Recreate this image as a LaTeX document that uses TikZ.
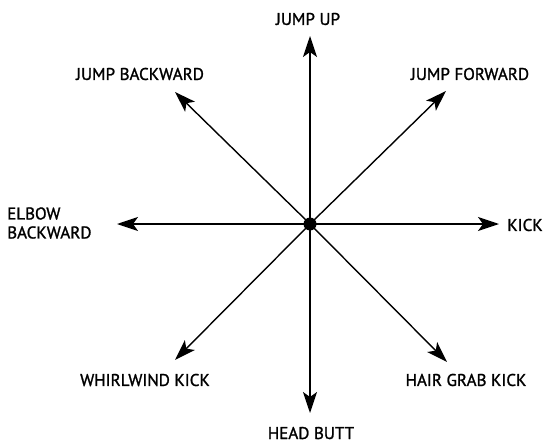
\documentclass[tikz,border=0pt]{standalone}
\usepackage{fontspec}
\newfontfamily\lblfont{PT Sans}[FakeBold=1.3]
\usetikzlibrary{arrows.meta}
\begin{document}
\begin{tikzpicture}[x=1pt,y=-1pt,
  dir/.style={line width=1.4pt,-{Stealth[length=21pt,width=14pt,inset=5pt]}},
  lbl/.style={font=\lblfont\fontsize{17}{17}\selectfont, inner sep=0pt, text=black}]
\useasboundingbox (0,0) rectangle (546,444);
\node[circle, fill=black, minimum size=13pt, inner sep=0pt] (c) at (310,224) {};
\coordinate (n) at (310,36);
\coordinate (s) at (310,413);
\coordinate (w) at (117,224);
\coordinate (e) at (499,224);
\coordinate (nw) at (175,92);
\coordinate (ne) at (446,91);
\coordinate (sw) at (175,360);
\coordinate (se) at (447,362);
\foreach \t in {n,s,w,e,nw,ne,sw,se} \draw[dir] (c.center) -- (\t);
\node[lbl] (tn) at (308,19) {JUMP UP};
\node[lbl] (tnw) at (140,74) {JUMP BACKWARD};
\node[lbl] (tne) at (470,74) {JUMP FORWARD};
\node[lbl, align=left, anchor=west] (tw) at (7,223) {ELBOW\\[2pt]BACKWARD};
\node[lbl] (te) at (525,225) {KICK};
\node[lbl] (tsw) at (145,380) {WHIRLWIND KICK};
\node[lbl] (tse) at (466,380) {HAIR GRAB KICK};
\node[lbl, anchor=base] (ts) at (311,439) {HEAD BUTT};
\end{tikzpicture}
\end{document}
